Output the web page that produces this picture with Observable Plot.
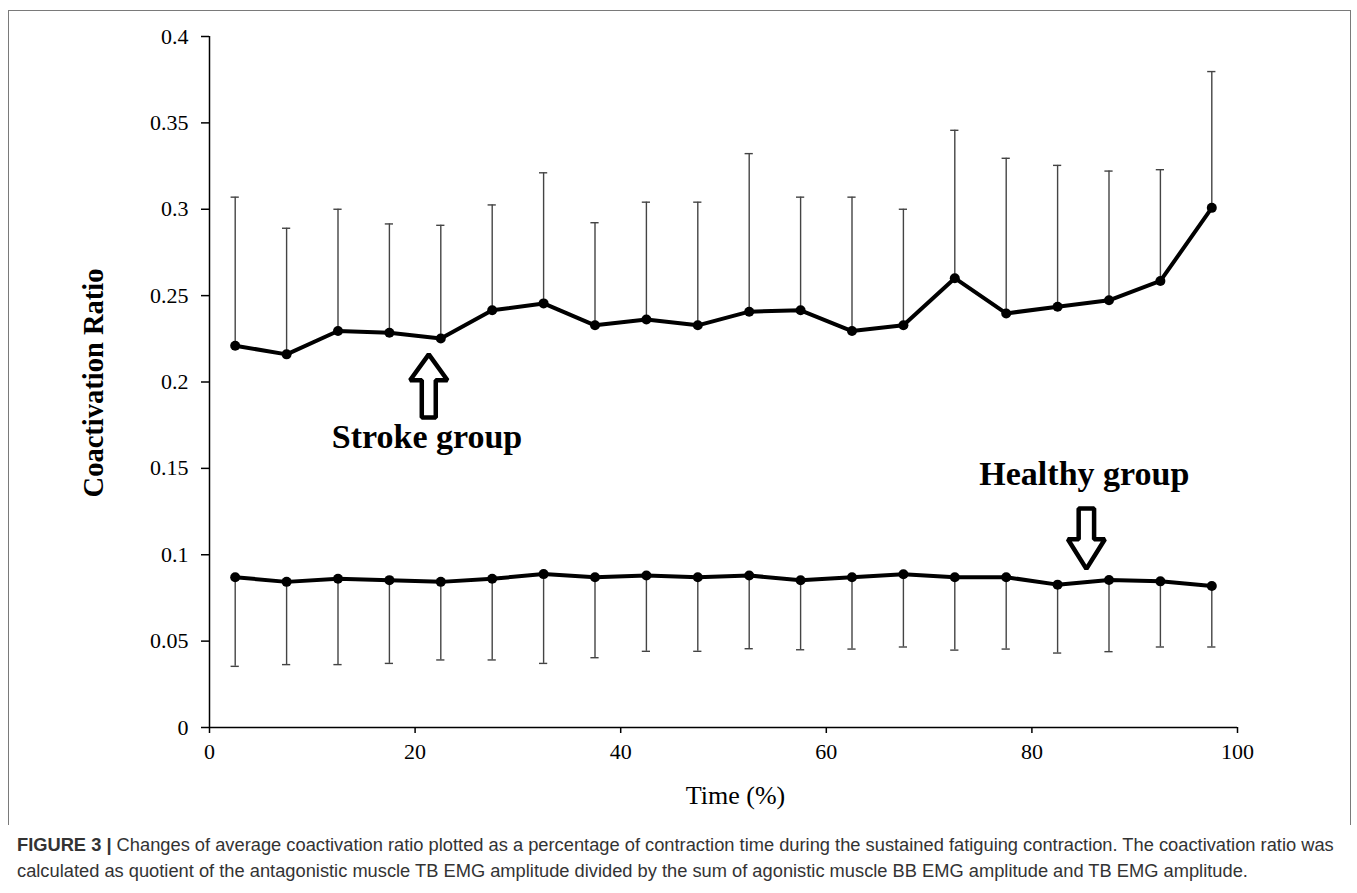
<!DOCTYPE html>
<html>
<head>
<meta charset="utf-8">
<script src="https://cdn.jsdelivr.net/npm/d3@7"></script>
<script src="https://cdn.jsdelivr.net/npm/@observablehq/plot@0.6"></script>
<style>
  html, body { margin: 0; padding: 0; background: #fff; }
  #wrap { position: relative; width: 1357px; height: 893px; overflow: hidden; }
  #chart { position: absolute; left: 0; top: 0; }
  #frame { position: absolute; left: 8px; top: 10px; width: 1341px; height: 814px;
           border-left: 1.5px solid #7a7a7a; border-top: 1.5px solid #7a7a7a; border-right: 1.5px solid #7a7a7a; }
  #caption { position: absolute; left: 17px; top: 832px; font-family: "Liberation Sans", Arial, sans-serif;
             font-size: 18.3px; line-height: 26px; color: #333; white-space: nowrap; }
  #caption b { font-weight: bold; }
</style>
</head>
<body>
<div id="wrap">
  <div id="frame"></div>
  <div id="chart"></div>
  <div id="caption">
    <div><b>FIGURE 3 |</b> Changes of average coactivation ratio plotted as a percentage of contraction time during the sustained fatiguing contraction. The coactivation ratio was</div>
    <div>calculated as quotient of the antagonistic muscle TB EMG amplitude divided by the sum of agonistic muscle BB EMG amplitude and TB EMG amplitude.</div>
  </div>
</div>
<script>
// ---- data ----
const timePct = [2.5, 7.5, 12.5, 17.5, 22.5, 27.5, 32.5, 37.5, 42.5, 47.5, 52.5, 57.5, 62.5, 67.5, 72.5, 77.5, 82.5, 87.5, 92.5, 97.5];
const strokeMean  = [0.221, 0.216, 0.2295, 0.2285, 0.2252, 0.2415, 0.2455, 0.2328, 0.2362, 0.2328, 0.2407, 0.2415, 0.2295, 0.2328, 0.2601, 0.2397, 0.2436, 0.2473, 0.2585, 0.3008];
const strokeUpper = [0.307, 0.289, 0.300, 0.2915, 0.2907, 0.3025, 0.3211, 0.2922, 0.3041, 0.3041, 0.3322, 0.307, 0.307, 0.300, 0.3457, 0.3295, 0.3254, 0.3221, 0.3229, 0.3797];
const healthyMean  = [0.0870, 0.0843, 0.0861, 0.0853, 0.0843, 0.0861, 0.0888, 0.0870, 0.0880, 0.0870, 0.0880, 0.0852, 0.0870, 0.0887, 0.0870, 0.0870, 0.0827, 0.0854, 0.0846, 0.0819];
const healthyLower = [0.0354, 0.0364, 0.0364, 0.0371, 0.0391, 0.0391, 0.0371, 0.0404, 0.0441, 0.0441, 0.0456, 0.0450, 0.0454, 0.0466, 0.0448, 0.0454, 0.0431, 0.0439, 0.0466, 0.0466];
const xTicks = [0, 20, 40, 60, 80, 100];
const yTicks = [0, 0.05, 0.1, 0.15, 0.2, 0.25, 0.3, 0.35, 0.4];
const xTitle = "Time (%)";
const yTitle = "Coactivation Ratio";
const groupLabels = ["Stroke group", "Healthy group"];
const labelX = [21.16, 85.1];
const labelY = [0.1618, 0.1403];
// arrow annotations: tip position, direction (+1 up, -1 down), sizes in data units
const arrowTipX = [21.33, 85.3];
const arrowTipY = [0.2160, 0.0918];
const arrowDir = [1, -1];
const arrowHeadHalfW = [1.82, 1.80];
const arrowHeadH = [0.0150, 0.0172];
const arrowShaftHalfW = [0.68, 0.75];
const arrowLen = [0.0366, 0.0350];

// ---- tables built from the arrays ----
const stroke = timePct.map((t, i) => ({t, mean: strokeMean[i], end: strokeUpper[i]}));
const healthy = timePct.map((t, i) => ({t, mean: healthyMean[i], end: healthyLower[i]}));
const bars = stroke.concat(healthy);
const labels = groupLabels.map((text, i) => ({text, x: labelX[i], y: labelY[i]}));
const arrowPts = [];
arrowTipX.forEach((x, i) => {
  const y = arrowTipY[i], d = arrowDir[i];
  const hw = arrowHeadHalfW[i], hh = arrowHeadH[i], sw = arrowShaftHalfW[i], L = arrowLen[i];
  const pts = [[x, y - d*L], [x + sw, y - d*L], [x + sw, y - d*hh], [x + hw, y - d*hh], [x, y],
               [x - hw, y - d*hh], [x - sw, y - d*hh], [x - sw, y - d*L], [x, y - d*L]];
  pts.forEach(([px, py]) => arrowPts.push({id: i, x: px, y: py}));
});
const capHalf = 0.4;

const chart = Plot.plot({
  width: 1357,
  height: 830,
  marginLeft: 209,
  marginRight: 120,
  marginTop: 36,
  marginBottom: 103,
  x: {domain: [0, 100]},
  y: {domain: [0, 0.4]},
  style: {fontFamily: "'Liberation Serif', 'Times New Roman', serif", fontSize: "22px", color: "#000", background: "transparent", overflow: "visible"},
  marks: [
    Plot.axisX({ticks: xTicks, tickSize: 6, tickPadding: 10, label: null, strokeWidth: 1.5}),
    Plot.axisY({ticks: yTicks, tickSize: 8, tickPadding: 13, label: null, strokeWidth: 1.5,
                tickFormat: d => String(+d.toFixed(2))}),
    Plot.ruleY([0], {stroke: "#000", strokeWidth: 1.5}),
    Plot.ruleX([0], {stroke: "#000", strokeWidth: 1.5}),
    // error bars
    Plot.ruleX(bars, {x: "t", y1: "mean", y2: "end", stroke: "#444", strokeWidth: 1.4}),
    Plot.ruleY(bars, {y: "end", x1: d => d.t - capHalf, x2: d => d.t + capHalf, stroke: "#444", strokeWidth: 1.4}),
    // series
    Plot.line(stroke, {x: "t", y: "mean", stroke: "#000", strokeWidth: 4}),
    Plot.line(healthy, {x: "t", y: "mean", stroke: "#000", strokeWidth: 4}),
    Plot.dot(stroke, {x: "t", y: "mean", r: 5, fill: "#000"}),
    Plot.dot(healthy, {x: "t", y: "mean", r: 5, fill: "#000"}),
    // annotations
    Plot.line(arrowPts, {x: "x", y: "y", z: "id", stroke: "#000", strokeWidth: 4.5, strokeLinejoin: "miter"}),
    Plot.text(labels, {x: "x", y: "y", text: "text", fontSize: 34, fontWeight: "bold", lineAnchor: "bottom", fill: "#000"}),
    // axis titles
    Plot.text([xTitle], {frameAnchor: "bottom", dx: 12, dy: 76, fontSize: 26, lineAnchor: "bottom", fill: "#000"}),
    Plot.text([yTitle], {frameAnchor: "left", textAnchor: "middle", dx: -107, dy: 1, rotate: -90, fontSize: 28.5, fontWeight: "bold", lineAnchor: "bottom", fill: "#000"})
  ]
});
document.getElementById("chart").appendChild(chart);
</script>
</body>
</html>
